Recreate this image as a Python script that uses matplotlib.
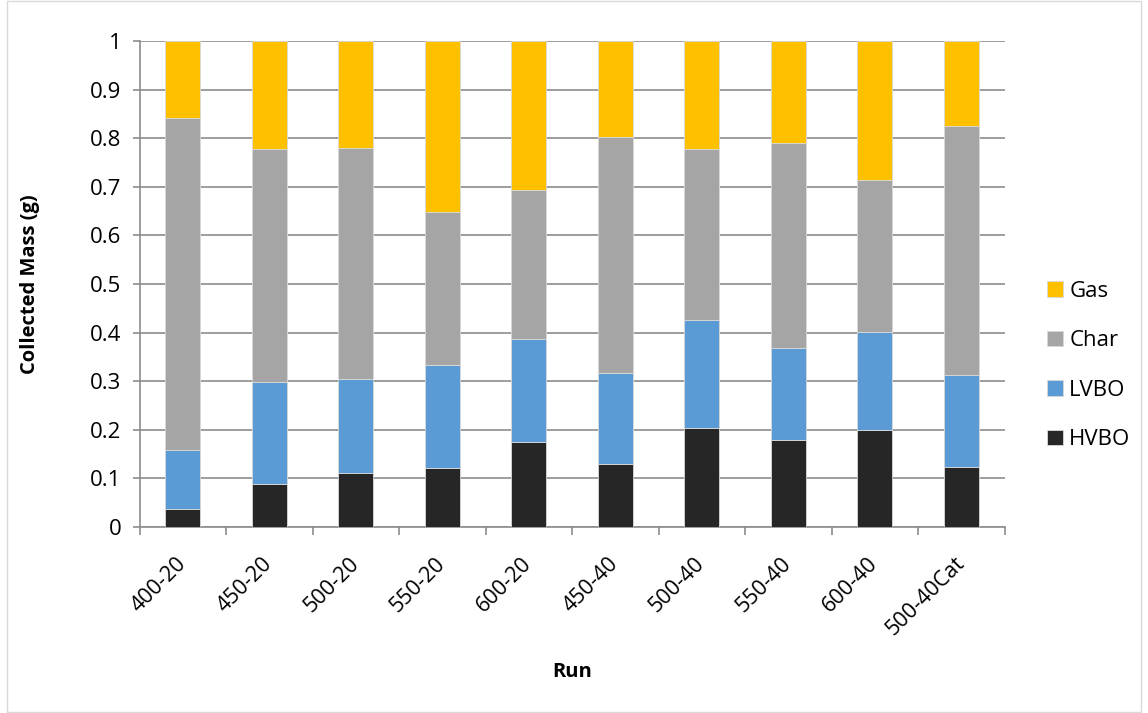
import numpy as np
import matplotlib
matplotlib.use("Agg")
import matplotlib.pyplot as plt
from matplotlib.patches import Rectangle

plt.rcParams['font.family'] = ['Open Sans', 'DejaVu Sans']

# Runs (temperature - residence time)
runs = ["400-20", "450-20", "500-20", "550-20", "600-20",
        "450-40", "500-40", "550-40", "600-40", "500-40Cat"]

# Collected mass per product fraction (g)
hvbo = [0.037, 0.089, 0.111, 0.122, 0.175, 0.129, 0.204, 0.178, 0.200, 0.124]
lvbo = [0.122, 0.210, 0.193, 0.212, 0.211, 0.188, 0.222, 0.191, 0.202, 0.189]
char = [0.682, 0.479, 0.475, 0.315, 0.308, 0.485, 0.351, 0.422, 0.312, 0.513]
gas = [0.159, 0.222, 0.221, 0.351, 0.306, 0.198, 0.223, 0.209, 0.286, 0.174]

series = [("HVBO", hvbo, "#262626"),
          ("LVBO", lvbo, "#5B9BD5"),
          ("Char", char, "#A5A5A5"),
          ("Gas", gas, "#FFC000")]

W, H = 1148, 713
fig = plt.figure(figsize=(W / 100, H / 100), dpi=100)
ax = fig.add_axes([139.5 / W, 1 - 527 / H, 865 / W, (527 - 41) / H])

x = np.arange(len(runs))
bottom = np.zeros(len(runs))
handles = {}
for name, vals, col in series:
    bars = ax.bar(x, vals, width=0.4, bottom=bottom, color=col,
                  edgecolor="#d9d9d9", linewidth=0.6, label=name, zorder=3)
    handles[name] = bars
    bottom += np.array(vals)

ax.set_xlim(-0.5, len(runs) - 0.5)
ax.set_ylim(0, 1)
ax.set_yticks(np.arange(0, 1.01, 0.1))
ax.set_yticklabels(["0"] + [f"{v:.1f}" for v in np.arange(0.1, 0.95, 0.1)] + ["1"])
ax.yaxis.grid(True, color="#8c8c8c", linewidth=1.2, zorder=0)

for side in ["top", "right"]:
    ax.spines[side].set_visible(False)
for side in ["left", "bottom"]:
    ax.spines[side].set_color("#8c8c8c")
    ax.spines[side].set_linewidth(1.2)

# category ticks sit between bars
ax.set_xticks(np.arange(-0.5, len(runs), 1.0), minor=False)
ax.set_xticklabels([])
ax.set_xticks(x, minor=True)
ax.set_xticklabels(runs, minor=True, rotation=45, ha="right", va="center",
                   rotation_mode="anchor", fontsize=15.5)
ax.tick_params(axis="x", which="major", length=6, color="#8c8c8c", width=1.2)
ax.tick_params(axis="x", which="minor", length=0, pad=24)
ax.tick_params(axis="y", length=5, color="#8c8c8c", width=1.2, labelsize=16, pad=8)

fig.text(30 / W, 1 - 284 / H, "Collected Mass (g)", rotation=90,
         ha="center", va="center", fontsize=14.5, fontweight="bold")
fig.text(572 / W, 1 - 672 / H, "Run", ha="center", va="center",
         fontsize=14.5, fontweight="bold")

order = ["Gas", "Char", "LVBO", "HVBO"]
fig.legend([handles[n] for n in order], order, loc="center left",
           bbox_to_anchor=(1047 / W, 1 - 365.5 / H), frameon=False,
           fontsize=16, handlelength=0.7, handleheight=0.7, labelspacing=1.28,
           handletextpad=0.3, borderpad=0, borderaxespad=0)

# outer chart border
fig.patches.append(Rectangle((7 / W, 1 / H), 1 - 14 / W, 1 - 2 / H,
                             transform=fig.transFigure, fill=False,
                             edgecolor="#d9d9d9", linewidth=1))

fig.savefig("out.png", dpi=100)
